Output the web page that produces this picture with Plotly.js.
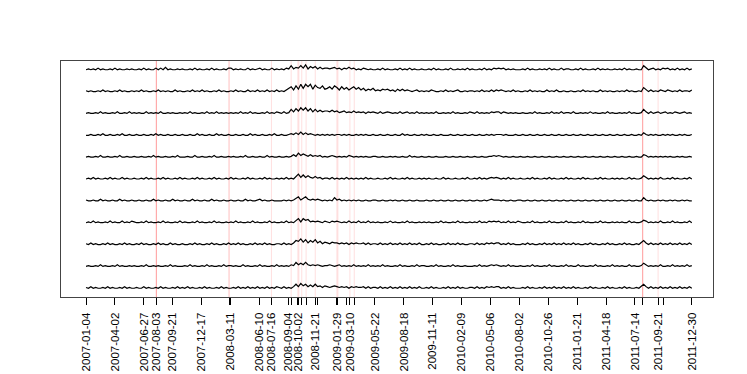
<!DOCTYPE html>
<html>
<head>
<meta charset="utf-8">
<script src="https://cdn.plot.ly/plotly-3.0.1.min.js"></script>
<style>
  html, body { margin: 0; padding: 0; background: #ffffff; }
</style>
</head>
<body>
<div id="plot" style="width:747px;height:374px;"></div>
<script>
// last trading day index (2007-01-04 = 0, 2011-12-30 = 1258)
const last_idx = 1258;

// series, top to bottom, one digit per ~5 trading days
// (digit = height above the series baseline)
const s01 = "01010201001020100101" + "00102010020203010010" + "10010201001020100102" + "20101002010120100201" +
            "01021513252614241312" + "21231202131201021010" + "01020100102010201001" + "00102010010200101020" +
            "10010201021212010100" + "01020100101020100201" + "10010201001020101001" + "01020100100520120102" + "120102010201";
const s02 = "10100102010010201001" + "01020100102010100201" + "00102010201001020100" + "10201002010201020102" +
            "01023627394969385473" + "46375263524635241324" + "12132312031312101201" + "01021001020101200101" +
            "10102010202121010201" + "00102010100201020010" + "01001020101002010100" + "10102010010520201021" + "021010201102";
const s03 = "01001020100102001020" + "10100201010200101001" + "01020100102010201010" + "10102010201001020102" +
            "10201526374736252423" + "32423123121312120212" + "10201210102012010201" + "01010200101020100102" +
            "10201010212202101010" + "01001020100102010201" + "10200101020100102010" + "01010201001520201201" + "201021012010";
const s04 = "00100102001001020010" + "01001001020100100100" + "10010020100100201001" + "00100100201001001020" +
            "01001213141312101010" + "10101101010010101001" + "00100100100201001001" + "01001001000100100100" +
            "10010010101110100010" + "01001001001001001001" + "00100100100100100100" + "10010010010310101001" + "010100101001";
const s05 = "01001020010010200100" + "10010010201001001020" + "00100200100102001001" + "01001020010010020100" +
            "10010131524213121201" + "01210101021010101001" + "10010010100100201001" + "00100100010010010010" +
            "01001001121210100100" + "10010010010010010010" + "01001001001001001001" + "00100100100320101010" + "101001010010";
const s06 = "01020100102010020100" + "10010201001020100102" + "01001020100102010010" + "20100102010010201001" +
            "01020103625242131201" + "10201010201010102010" + "01001020100102010010" + "10100100201001001020" +
            "01020101212101020100" + "10010201001020100102" + "01001020100102010010" + "10100201001420101020" + "010201001020";
const s07 = "10010020100100201001" + "00100100201001002010" + "01002010010020100100" + "10010020100120100100" +
            "00101013513521212101" + "01041201010101001001" + "10010010100100100100" + "01001001001001001001" +
            "00100101211101001001" + "10010010010010010010" + "01001001001001001001" + "00100100100410100101" + "001010010100";
const s08 = "01020100102010020102" + "10010201001020100102" + "01001020100102010010" + "10201001020100102010" +
            "01020103515341212102" + "10212101020102010201" + "01001020100102010010" + "10100102010010201001" +
            "01020102121201020102" + "10010201001020100102" + "01001020100102010010" + "10100201001320101020" + "010201001020";
const s09 = "10201001020100102010" + "01020100102010020100" + "10010201001020100102" + "01020100102010201001" +
            "10201025473625362413" + "21322121202121120201" + "10201020102010201020" + "01020100102010201001" +
            "10201021212201020100" + "01020100102010201020" + "10201001020100102010" + "01020100102520201020" + "102010201020";
const s10 = "01001020100102010010" + "10010200101001020100" + "01020100102010010201" + "10100201001020100102" +
            "01010215242521212101" + "12101201010201010201" + "01020100102010010201" + "10010201001020100100" +
            "01020101212101020100" + "10010201001020100102" + "01002010010201001020" + "10100201001420101020" + "010201010201";
const s11 = "10201001020100102010" + "01002010010201001020" + "10201001020100102010" + "01020102010201020102" +
            "10201025263524252313" + "21232121202121120201" + "10201020102010201020" + "01020100102010201001" +
            "10201021212201020100" + "01020100102010201020" + "10201001020100102010" + "01020100102520201020" + "102010201020";

const series_list = [s01, s02, s03, s04, s05, s06, s07, s08, s09, s10, s11];

// regular axis ticks (every 60 trading days) and their dates
const tick_idx   = [0, 60, 120, 180, 240, 300, 360, 420, 480, 540, 600, 660, 720, 780, 840, 900, 960, 1020, 1080, 1140, 1200, 1258];
const tick_dates = ["2007-01-04", "2007-04-02", "2007-06-27", "2007-09-21", "2007-12-17", "2008-03-11", "2008-06-10",
                    "2008-09-04", "", "", "2009-05-22", "2009-08-18", "2009-11-11", "2010-02-09", "2010-05-06",
                    "2010-08-02", "2010-10-26", "2011-01-21", "2011-04-18", "2011-07-14", "", "2011-12-30"];

// event days (red lines)
const event_idx   = [146, 297, 385, 426, 440, 442, 448, 457, 476, 521, 523, 548, 557, 1156, 1188];
const event_dates = ["2007-08-03", "", "2008-07-16", "", "2008-10-02", "", "", "", "2008-11-21",
                     "2009-01-29", "", "2009-03-10", "", "", "2011-09-21"];
const event_level = [3, 2, 1, 1, 1, 1, 1, 1, 1, 1, 1, 1, 1, 3, 1];

const unit = 0.037;   // one digit in y units

var data = [];
for (let i = 0; i < series_list.length; i++) {
    const str = series_list[i];
    const n = str.length;
    let xs = [];
    let ys = [];
    for (let k = 0; k < n; k++) {
        xs.push(Math.round(k * last_idx / (n - 1)));
        ys.push((series_list.length - 1 - i) + parseInt(str[k]) * unit);
    }
    data.push({
        x: xs,
        y: ys,
        type: 'scatter',
        mode: 'lines',
        line: {color: '#000000', width: 1.2},
        hoverinfo: 'skip',
        showlegend: false
    });
}

const alpha_for = {1: 0.13, 2: 0.25, 3: 0.4};
var shapes = [];
for (let i = 0; i < event_idx.length; i++) {
    shapes.push({
        type: 'line',
        xref: 'x', yref: 'paper',
        x0: event_idx[i], x1: event_idx[i],
        y0: 0, y1: 1,
        line: {color: 'rgba(255,0,0,' + alpha_for[event_level[i]] + ')', width: 1},
        layer: 'below'
    });
}

const all_vals = tick_idx.concat(event_idx);
const all_text = tick_dates.concat(event_dates);

var layout = {
    width: 747,
    height: 374,
    margin: {l: 61, r: 34, t: 61, b: 77, pad: 0},
    paper_bgcolor: '#ffffff',
    plot_bgcolor: '#ffffff',
    showlegend: false,
    font: {family: 'Liberation Sans, Arial, sans-serif', size: 11.5, color: '#000000'},
    xaxis: {
        range: [-52, 1302],
        tickmode: 'array',
        tickvals: all_vals,
        ticktext: all_text,
        tickangle: -90,
        ticks: 'outside',
        ticklen: 7,
        tickwidth: 1,
        tickcolor: '#000000',
        tickfont: {size: 11.5},
        ticklabelstandoff: 3,
        showgrid: false,
        zeroline: false,
        showline: true,
        mirror: true,
        linecolor: '#444444',
        linewidth: 1
    },
    yaxis: {
        range: [-0.40, 10.40],
        showticklabels: false,
        ticks: '',
        showgrid: false,
        zeroline: false,
        showline: true,
        mirror: true,
        linecolor: '#444444',
        linewidth: 1
    },
    shapes: shapes
};

Plotly.newPlot('plot', data, layout, {staticPlot: true, displayModeBar: false});
</script>
</body>
</html>
